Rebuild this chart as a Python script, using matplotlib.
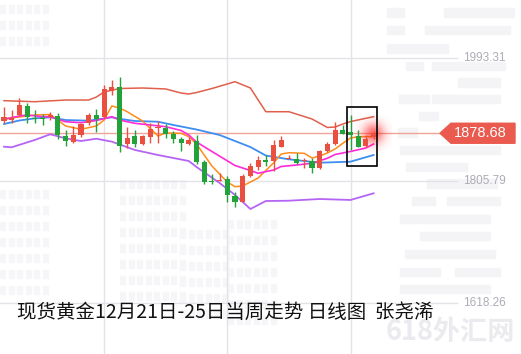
import numpy as np
import matplotlib.pyplot as plt
from matplotlib.patches import Polygon, Rectangle
from matplotlib.transforms import blended_transform_factory

# daily candles (open, high, low, close)
opens = [1897.9, 1898.9, 1906.6, 1920.4, 1901.5, 1900.5, 1903.1, 1905.1, 1874.5, 1865.8,
         1876.0, 1893.9, 1906.6, 1904.0, 1943.8, 1949.0, 1862.2, 1874.5, 1862.2, 1873.4,
         1887.0, 1886.7, 1877.5, 1870.3, 1862.2, 1867.3, 1835.2, 1806.1, 1805.6, 1808.2,
         1782.7, 1774.0, 1813.3, 1827.5, 1837.8, 1836.7, 1858.1, 1839.3, 1838.8, 1836.2,
         1836.7, 1825.1, 1852.0, 1862.2, 1883.7, 1881.1, 1874.5, 1859.2, 1872.5]
highs = [1919.3, 1914.2, 1932.1, 1924.5, 1914.2, 1908.1, 1911.6, 1910.1, 1883.7, 1889.8,
         1893.9, 1910.1, 1915.3, 1952.5, 1960.1, 1965.2, 1887.8, 1883.7, 1875.5, 1893.9,
         1897.4, 1892.8, 1882.6, 1873.4, 1873.4, 1876.0, 1837.8, 1816.3, 1818.3, 1813.3,
         1789.3, 1816.3, 1832.7, 1843.9, 1845.4, 1868.4, 1874.5, 1845.4, 1848.9, 1840.4,
         1840.4, 1853.1, 1865.8, 1896.3, 1891.3, 1906.6, 1883.7, 1876.0, 1882.6]
lows = [1894.8, 1894.4, 1905.1, 1894.8, 1894.8, 1891.3, 1898.9, 1869.4, 1859.2, 1864.2,
        1873.4, 1891.3, 1881.1, 1901.5, 1937.2, 1850.5, 1855.7, 1857.2, 1861.2, 1864.2,
        1864.2, 1871.0, 1864.2, 1852.0, 1860.7, 1831.6, 1801.1, 1801.1, 1805.6, 1774.0,
        1766.3, 1774.0, 1812.2, 1822.5, 1828.6, 1821.4, 1857.2, 1838.8, 1831.6, 1825.1,
        1818.3, 1823.5, 1850.5, 1860.7, 1877.5, 1853.1, 1857.2, 1858.1, 1869.4]
closes = [1903.1, 1901.5, 1921.9, 1903.1, 1900.0, 1899.8, 1906.6, 1876.0, 1867.3, 1876.0,
          1892.8, 1906.6, 1900.5, 1946.4, 1949.0, 1859.2, 1871.0, 1862.2, 1874.5, 1884.7,
          1887.8, 1877.5, 1870.3, 1864.2, 1868.4, 1835.2, 1804.6, 1804.6, 1806.1, 1784.2,
          1774.0, 1813.3, 1828.6, 1837.8, 1835.2, 1860.7, 1868.4, 1839.7, 1833.6, 1836.7,
          1825.1, 1852.0, 1862.2, 1883.7, 1877.5, 1876.0, 1858.1, 1870.3, 1878.68]

# indicator lines, read at candle positions
boll_up_x = [0, 4, 8, 11, 12, 13, 15, 18, 21, 23, 24, 25, 27, 30, 32, 34, 37, 40, 42, 43, 44, 45, 48]
boll_up = [1928.5, 1926.9, 1929.5, 1929.5, 1934.1, 1941.8, 1947.1, 1947.9, 1946.4, 1940.2, 1938.7,
           1941.0, 1947.1, 1957.5, 1947.9, 1911.6, 1911.6, 1900.5, 1887.5, 1888.2, 1892.8, 1896.6, 1904.0]
boll_mid_x = [0, 2, 4, 6, 8, 11, 13, 14, 15, 17, 20, 22, 25, 28, 32, 34, 37, 41, 45, 48]
boll_mid = [1892.8, 1898.2, 1901.5, 1903.1, 1898.9, 1897.9, 1901.2, 1903.1, 1900.8, 1897.4,
            1896.3, 1891.3, 1884.4, 1876.0, 1857.6, 1844.6, 1838.8, 1833.6, 1835.2, 1845.4]
boll_low_x = [0, 1, 4, 6, 8, 10, 12, 14, 17, 20, 24, 25, 28, 30, 32, 34, 37, 41, 45, 48]
boll_low = [1858.1, 1857.2, 1868.4, 1877.1, 1870.9, 1866.8, 1870.3, 1865.8, 1853.1, 1845.4,
            1836.2, 1827.1, 1802.6, 1784.2, 1762.8, 1775.0, 1775.5, 1778.1, 1776.6, 1786.8]
ma5_x = [0, 2, 4, 6, 8, 10, 12, 13, 14, 15, 16, 18, 20, 21, 23, 24, 25, 27, 29, 30, 31, 33,
         35, 36, 37, 39, 40, 41, 42, 43, 44, 45, 46, 48]
ma5 = [1900.5, 1903.5, 1906.6, 1907.4, 1889.8, 1884.7, 1889.8, 1898.9, 1920.4, 1917.3, 1911.6,
       1897.4, 1874.5, 1879.1, 1878.6, 1873.4, 1862.2, 1828.6, 1804.1, 1796.9, 1798.0, 1810.2,
       1833.2, 1846.9, 1848.9, 1848.0, 1840.8, 1843.9, 1848.5, 1854.6, 1863.3, 1871.4, 1873.4, 1873.4]
ma10_x = [0, 2, 3, 5, 6, 8, 10, 12, 14, 15, 17, 19, 21, 23, 24, 25, 27, 30, 32, 33, 35, 36,
          38, 40, 42, 43, 45, 47, 48]
ma10 = [1900.0, 1905.1, 1906.6, 1904.0, 1904.0, 1896.3, 1894.8, 1898.2, 1904.0, 1898.9, 1893.9,
        1891.3, 1888.7, 1882.9, 1876.0, 1865.3, 1850.8, 1829.3, 1821.7, 1817.4, 1822.5, 1827.8,
        1830.1, 1832.7, 1840.4, 1846.2, 1850.8, 1856.1, 1862.2]

axis_labels = [1993.31, 1805.79, 1618.26]
last_price = 1878.68
grid_days = [13, 29, 45]
title = "现货黄金12月21日-25日当周走势 日线图  张尧浠"

W, H = 521, 354
fig = plt.figure(figsize=(W / 100, H / 100), dpi=100)
ax = fig.add_axes([0, 0, 1, 1])
ax.axis("off")

# faint background "buildings" (drawn behind the axes)
pix = fig.transFigure
def block(x, y, w, h, c="#f4f4f6"):
    fig.patches.append(Rectangle((x / W, 1 - (y + h) / H), w / W, h / H, transform=pix,
                                 color=c, zorder=-5))

for (x0, y0, nx, ny) in [(0, 5, 6, 3), (0, 190, 6, 7), (120, 180, 8, 8), (180, 230, 6, 6),
                         (228, 220, 6, 7)]:
    for i in range(nx):
        for j in range(ny):
            block(x0 + i * 8.5, y0 + j * 16, 5, 8, "#f6f6f8")
for (x, y, w, h) in [(387, 44, 61, 9), (406, 62, 17, 8), (432, 62, 73, 8), (458, 78, 42, 9),
                     (399, 95, 30, 8), (432, 95, 68, 8), (419, 112, 19, 8), (398, 128, 19, 9),
                     (400, 146, 100, 8), (406, 163, 61, 8), (427, 179, 70, 9), (412, 197, 23, 8),
                     (447, 197, 53, 8), (387, 8, 17, 9), (444, 8, 70, 9), (387, 26, 17, 8),
                     (425, 26, 85, 8), (400, 215, 90, 8), (420, 232, 70, 8), (405, 250, 90, 8),
                     (400, 268, 40, 8), (455, 268, 45, 8), (400, 285, 90, 8)]:
    block(x, y, w, h)

# grid
gx = blended_transform_factory(ax.transAxes, ax.transData)
for d in grid_days:
    ax.axvline(d, color="#e2e2e8", lw=1, zorder=1)
for p in axis_labels:
    ax.plot([0, 457 / W], [p, p], color="#e2e2e8", lw=1, transform=gx, zorder=1)
    ax.text(463 / W, p, f"{p:.2f}", transform=gx, ha="left", va="center",
            fontsize=8.5, color="#acacb6", family="Liberation Sans")

# current price line and label
ax.plot([0, 440 / W], [last_price, last_price], color="#f0a497", lw=1, transform=gx, zorder=2)
dh = 10 * 1.5296
ax.add_patch(Polygon([(440 / W, last_price), (451 / W, last_price + dh), (515 / W, last_price + dh),
                      (515 / W, last_price - dh), (451 / W, last_price - dh)],
                     closed=True, transform=gx, color="#ea5a4e", zorder=5))
ax.text(480 / W, last_price, f"{last_price:.2f}", transform=gx, ha="center", va="center",
        fontsize=10.5, color="white", family="Liberation Sans", zorder=6)

# indicator lines
ax.plot(boll_up_x, boll_up, color="#e0604c", lw=1.1, zorder=3)
ax.plot(boll_mid_x, boll_mid, color="#3d8ef0", lw=1.3, zorder=3)
ax.plot(boll_low_x, boll_low, color="#b565f5", lw=1.3, zorder=3)
ax.plot(ma5_x, ma5, color="#ff8c1a", lw=1.1, zorder=3)
ax.plot(ma10_x, ma10, color="#ff2ad8", lw=1.2, zorder=3)

# candles
idx = np.arange(len(closes))
o, hi, lo, c = map(np.array, (opens, highs, lows, closes))
up = c >= o
cols = np.where(up, "#e9503f", "#22a33a")
ax.vlines(idx, lo, hi, colors=cols, lw=1, zorder=4)
body = np.maximum(np.abs(c - o), 1.5)
ax.bar(idx, body, bottom=np.minimum(o, c), width=0.66, color=cols, zorder=4)

# glow on the latest candle
gy, gxx = np.mgrid[-1:1:60j, -1:1:60j]
glow = np.zeros((60, 60, 4))
glow[..., 0] = 1.0
glow[..., 1] = 0.12
glow[..., 2] = 0.12
glow[..., 3] = 0.65 * np.exp(-(gxx ** 2 + gy ** 2) * 3.0)
n = len(closes) - 1
ax.imshow(glow, extent=(n - 2.4, n + 2.4, last_price - 28, last_price + 28),
          aspect="auto", zorder=3.5, interpolation="bilinear")

# highlight box
ax.add_patch(Rectangle((44.5, 1829.0), 4.0, 1918.4 - 1829.0, fill=False, ec="black",
                       lw=1.2, zorder=7))

ax.set_xlim(-4 / 7.7, (W - 4) / 7.7)
ax.set_ylim(1541.0, 2082.5)

# watermark and title
fig.text(450 / W, 1 - 332 / H, "618外汇网", ha="center", va="center", fontsize=19.5,
         fontweight="bold", color="#ebebef", family=["Noto Sans CJK SC", "DejaVu Sans"])
fig.text(17 / W, 1 - 312 / H, title, ha="left", va="center", fontsize=14,
         color="#111111", family=["Noto Sans CJK SC", "DejaVu Sans"])

fig.savefig("out.png", dpi=100, facecolor="white")
